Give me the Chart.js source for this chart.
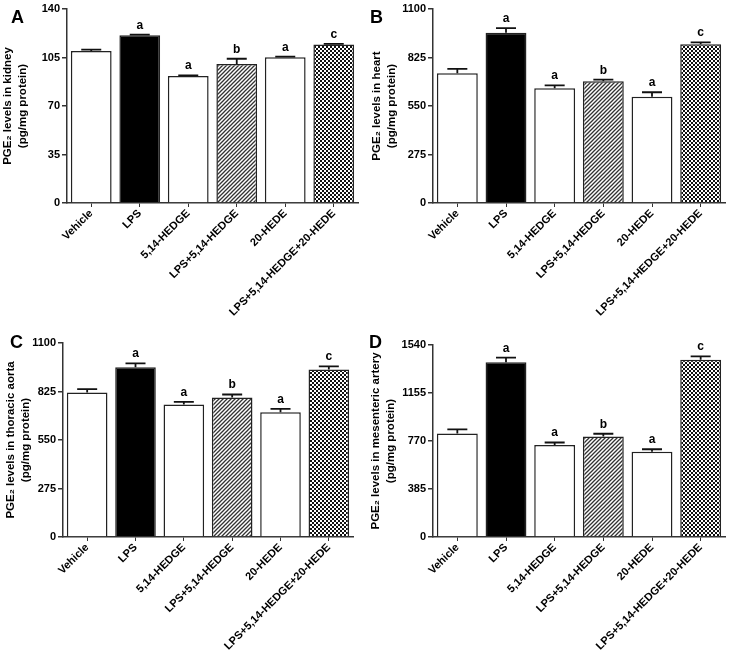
<!DOCTYPE html>
<html>
<head>
<meta charset="utf-8">
<script src="https://cdn.jsdelivr.net/npm/chart.js@4.4.1/dist/chart.umd.min.js"></script>
<style>
  body { margin: 0; background: #fff; }
  #wrap { position: relative; width: 730px; height: 654px; }
  canvas { position: absolute; }
  .panel { position: absolute; font: bold 18px "Liberation Sans", Arial, sans-serif; line-height: 1; color: #000; }
</style>
</head>
<body>
<div id="wrap">
  <canvas id="chartA" width="365" height="330" style="left:0;top:0"></canvas>
  <canvas id="chartB" width="365" height="330" style="left:365px;top:0"></canvas>
  <canvas id="chartC" width="365" height="324" style="left:0;top:330px"></canvas>
  <canvas id="chartD" width="365" height="324" style="left:365px;top:330px"></canvas>
  <div class="panel" style="left:11px;top:8px">A</div>
  <div class="panel" style="left:370px;top:8px">B</div>
  <div class="panel" style="left:10px;top:333px">C</div>
  <div class="panel" style="left:369px;top:333px">D</div>
</div>
<script>
// Datos
const categories = ['Vehicle', 'LPS', '5,14-HEDGE', 'LPS+5,14-HEDGE', '20-HEDE', 'LPS+5,14-HEDGE+20-HEDE'];
const sigLetters = ['', 'a', 'a', 'b', 'a', 'c'];

const kidneyValues = [109.7, 121.0, 91.6, 100.3, 105.1, 114.3];
const kidneyErrors = [1.0, 0.5, 0.5, 3.8, 0.5, 0.5];
const kidneyTicks = [0, 35, 70, 105, 140];

const heartValues = [735, 966, 650, 690, 603, 900];
const heartErrors = [25, 26, 17, 9, 25, 11];
const heartTicks = [0, 275, 550, 825, 1100];

const aortaValues = [819, 963, 751, 791, 707, 950];
const aortaErrors = [19, 21, 15, 17, 19, 17];
const aortaTicks = [0, 275, 550, 825, 1100];

const arteryValues = [831, 1401, 737, 807, 683, 1422];
const arteryErrors = [32, 37, 21, 21, 21, 27];
const arteryTicks = [0, 385, 770, 1155, 1540];

const FONT = '"Liberation Sans", Arial, sans-serif';

// Tramas de relleno
function hatchPattern(ctx) {
    const c = document.createElement('canvas');
    c.width = 4; c.height = 4;
    const g = c.getContext('2d');
    g.fillStyle = '#fff';
    g.fillRect(0, 0, 4, 4);
    g.strokeStyle = '#333';
    g.lineWidth = 1.3;
    g.beginPath();
    g.moveTo(0, 4); g.lineTo(4, 0);
    g.moveTo(-1, 1); g.lineTo(1, -1);
    g.moveTo(3, 5); g.lineTo(5, 3);
    g.stroke();
    return ctx.createPattern(c, 'repeat');
}

function checkPattern(ctx) {
    const c = document.createElement('canvas');
    c.width = 4; c.height = 4;
    const g = c.getContext('2d');
    g.fillStyle = '#fff';
    g.fillRect(0, 0, 4, 4);
    g.fillStyle = '#111';
    g.fillRect(0, 0, 2, 2);
    g.fillRect(2, 2, 2, 2);
    return ctx.createPattern(c, 'repeat');
}

// Barras de error y letras
const errorBarPlugin = {
    id: 'errorBars',
    afterDatasetsDraw(chart) {
        const ctx = chart.ctx;
        const meta = chart.getDatasetMeta(0);
        const ds = chart.data.datasets[0];
        const y = chart.scales.y;
        ctx.save();
        ctx.strokeStyle = '#111';
        ctx.lineWidth = 1.8;
        ctx.fillStyle = '#000';
        ctx.font = 'bold 12px ' + FONT;
        ctx.textAlign = 'center';
        meta.data.forEach((bar, i) => {
            const top = y.getPixelForValue(ds.data[i] + ds.errors[i]);
            ctx.beginPath();
            ctx.moveTo(bar.x, bar.y);
            ctx.lineTo(bar.x, top);
            ctx.moveTo(bar.x - 10, top);
            ctx.lineTo(bar.x + 10, top);
            ctx.stroke();
            if (sigLetters[i]) {
                ctx.fillText(sigLetters[i], bar.x, top - 6);
            }
        });
        ctx.restore();
    }
};

function makePanel(id, values, errors, ticks, organ, geo) {
    const ctx = document.getElementById(id).getContext('2d');
    const colors = ['#fff', '#000', '#fff', hatchPattern(ctx), '#fff', checkPattern(ctx)];
    new Chart(ctx, {
        type: 'bar',
        data: {
            labels: categories,
            datasets: [{
                data: values,
                errors: errors,
                backgroundColor: colors,
                borderColor: '#222',
                borderWidth: 1.5,
                barPercentage: 0.84,
                categoryPercentage: 1
            }]
        },
        options: {
            responsive: false,
            animation: false,
            events: [],
            layout: { padding: { left: geo.padLeft, top: geo.top, right: geo.padRight, bottom: 0 } },
            plugins: { legend: { display: false }, tooltip: { enabled: false } },
            scales: {
                x: {
                    offset: true,
                    border: { color: '#333', width: 1.5 },
                    grid: { drawOnChartArea: false, offset: false, tickLength: 4, color: '#333', lineWidth: 1 },
                    ticks: {
                        minRotation: 45, maxRotation: 45, autoSkip: false, padding: 0,
                        color: '#000', font: { family: FONT, size: 11, weight: 'bold' }
                    },
                    afterFit: s => { s.height = geo.xHeight; }
                },
                y: {
                    min: 0,
                    max: ticks[ticks.length - 1],
                    afterBuildTicks: s => { s.ticks = ticks.map(v => ({ value: v })); },
                    border: { color: '#333', width: 1.5 },
                    grid: { drawOnChartArea: false, tickLength: 5, color: '#333', lineWidth: 1.5 },
                    ticks: {
                        padding: 2, color: '#000',
                        font: { family: FONT, size: 11, weight: 'bold' },
                        callback: v => String(v)
                    },
                    title: {
                        display: true,
                        text: ['PGE\u2082 levels in ' + organ, '(pg/mg protein)'],
                        color: '#000',
                        padding: 0,
                        font: { family: FONT, size: 11.5, weight: 'bold', lineHeight: 1.25 }
                    },
                    afterFit: s => { s.width = geo.yWidth; }
                }
            }
        },
        plugins: [errorBarPlugin]
    });
}

makePanel('chartA', kidneyValues, kidneyErrors, kidneyTicks, 'kidney',
    { padLeft: 1, yWidth: 66, top: 9, padRight: 7, xHeight: 127 });
makePanel('chartB', heartValues, heartErrors, heartTicks, 'heart',
    { padLeft: 5, yWidth: 63, top: 9, padRight: 5, xHeight: 127 });
makePanel('chartC', aortaValues, aortaErrors, aortaTicks, 'thoracic aorta',
    { padLeft: 4, yWidth: 59, top: 13, padRight: 12, xHeight: 117 });
makePanel('chartD', arteryValues, arteryErrors, arteryTicks, 'mesenteric artery',
    { padLeft: 4, yWidth: 64, top: 15, padRight: 5, xHeight: 117 });
</script>
</body>
</html>
